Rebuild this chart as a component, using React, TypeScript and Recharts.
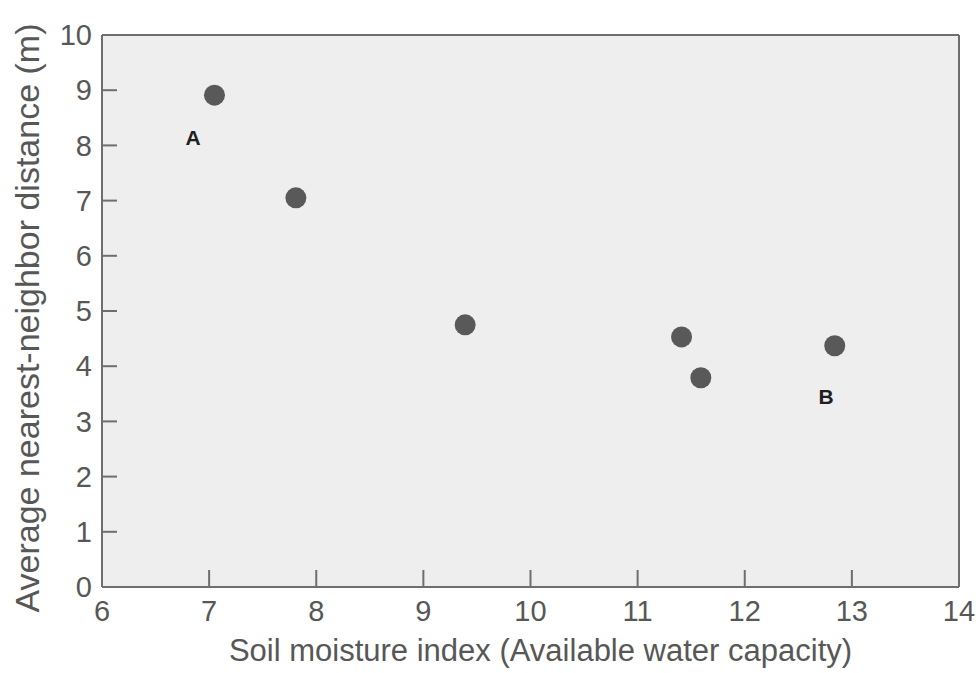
import {
  ScatterChart,
  Scatter,
  XAxis,
  YAxis,
  CartesianGrid,
  ReferenceLine,
  Label,
} from 'recharts'

// Soil moisture vs. spacing of plants
const soilMoisture = [7.05, 7.81, 9.39, 11.41, 11.59, 12.84]
const neighborDistance = [8.91, 7.05, 4.75, 4.53, 3.79, 4.37]

// site markers
const siteNames = ['A', 'B']
const siteX = [6.85, 12.76]
const siteY = [8.15, 3.46]

const xTicks = [6, 7, 8, 9, 10, 11, 12, 13, 14]
const yTicks = [0, 1, 2, 3, 4, 5, 6, 7, 8, 9, 10]

const FONT = '"Liberation Sans", Arial, Helvetica, sans-serif'
const AXIS = '#6e6e6e'
const TEXT = '#575757'
const X_GAP = 13 // label distance below the axis
const Y_GAP = 10 // label distance left of the axis

const points = soilMoisture.map((x, i) => ({ x, y: neighborDistance[i] }))
const sites = siteNames.map((name, i) => ({ x: siteX[i], y: siteY[i], name }))

function Dot(props: any) {
  const { cx, cy } = props
  return <circle cx={cx} cy={cy} r={10.5} fill="#595959" />
}

function SiteLabel(props: any) {
  const { cx, cy, payload } = props
  return (
    <text
      x={cx}
      y={cy}
      textAnchor="middle"
      dominantBaseline="central"
      fontFamily={FONT}
      fontWeight="bold"
      fontSize={21}
      fill="#1f1f1f"
    >
      {payload.name}
    </text>
  )
}

// ticks point inward, so draw line + text together
function XTick(props: any) {
  const { x, y, payload } = props
  const axisY = y - X_GAP
  return (
    <g>
      <line x1={x} x2={x} y1={axisY} y2={axisY - 17} stroke={AXIS} strokeWidth={2} />
      <text x={x} y={y} dy="0.71em" textAnchor="middle" fontFamily={FONT} fontSize={29} fill={TEXT}>
        {payload.value}
      </text>
    </g>
  )
}

function YTick(props: any) {
  const { x, y, payload } = props
  const axisX = x + Y_GAP
  return (
    <g>
      <line x1={axisX} x2={axisX + 15} y1={y} y2={y} stroke={AXIS} strokeWidth={2} />
      <text x={x} y={y} dy="0.355em" textAnchor="end" fontFamily={FONT} fontSize={29} fill={TEXT}>
        {payload.value}
      </text>
    </g>
  )
}

export default function App() {
  return (
    <div style={{ position: 'absolute', left: 0, top: 0, width: 980, height: 673, background: '#fff' }}>
      <ScatterChart
        width={980}
        height={673}
        margin={{ top: 35, right: 21, bottom: 6, left: 12 }}
      >
        <CartesianGrid fill="#eeeeee" horizontal={false} vertical={false} stroke="none" />
        <XAxis
          type="number"
          dataKey="x"
          domain={[6, 14]}
          ticks={xTicks}
          height={80}
          tickSize={0}
          tickMargin={X_GAP}
          tick={<XTick />}
          tickLine={false}
          axisLine={{ stroke: AXIS, strokeWidth: 2 }}
          allowDataOverflow
        >
          <Label
            content={(p: any) => {
              const vb = p.viewBox
              return (
                <text
                  x={vb.x + vb.width / 2 + 10}
                  y={vb.y + 74}
                  textAnchor="middle"
                  fontFamily={FONT}
                  fontSize={31}
                  fill={TEXT}
                >
                  Soil moisture index (Available water capacity)
                </text>
              )
            }}
          />
        </XAxis>
        <YAxis
          type="number"
          dataKey="y"
          domain={[0, 10]}
          ticks={yTicks}
          width={90}
          tickSize={0}
          tickMargin={Y_GAP}
          tick={<YTick />}
          tickLine={false}
          axisLine={{ stroke: AXIS, strokeWidth: 2 }}
          allowDataOverflow
        >
          <Label
            content={(p: any) => {
              const vb = p.viewBox
              const cx = vb.x + 15
              const cy = vb.y + vb.height / 2 + 7
              return (
                <text
                  x={cx}
                  y={cy}
                  transform={`rotate(-90 ${cx} ${cy})`}
                  textAnchor="middle"
                  dominantBaseline="central"
                  fontFamily={FONT}
                  fontSize={34}
                  fill={TEXT}
                >
                  Average nearest-neighbor distance (m)
                </text>
              )
            }}
          />
        </YAxis>
        <ReferenceLine y={10} stroke={AXIS} strokeWidth={2} />
        <ReferenceLine x={14} stroke={AXIS} strokeWidth={2} />
        <Scatter data={points} shape={Dot} isAnimationActive={false} />
        <Scatter data={sites} shape={SiteLabel} isAnimationActive={false} />
      </ScatterChart>
    </div>
  )
}
